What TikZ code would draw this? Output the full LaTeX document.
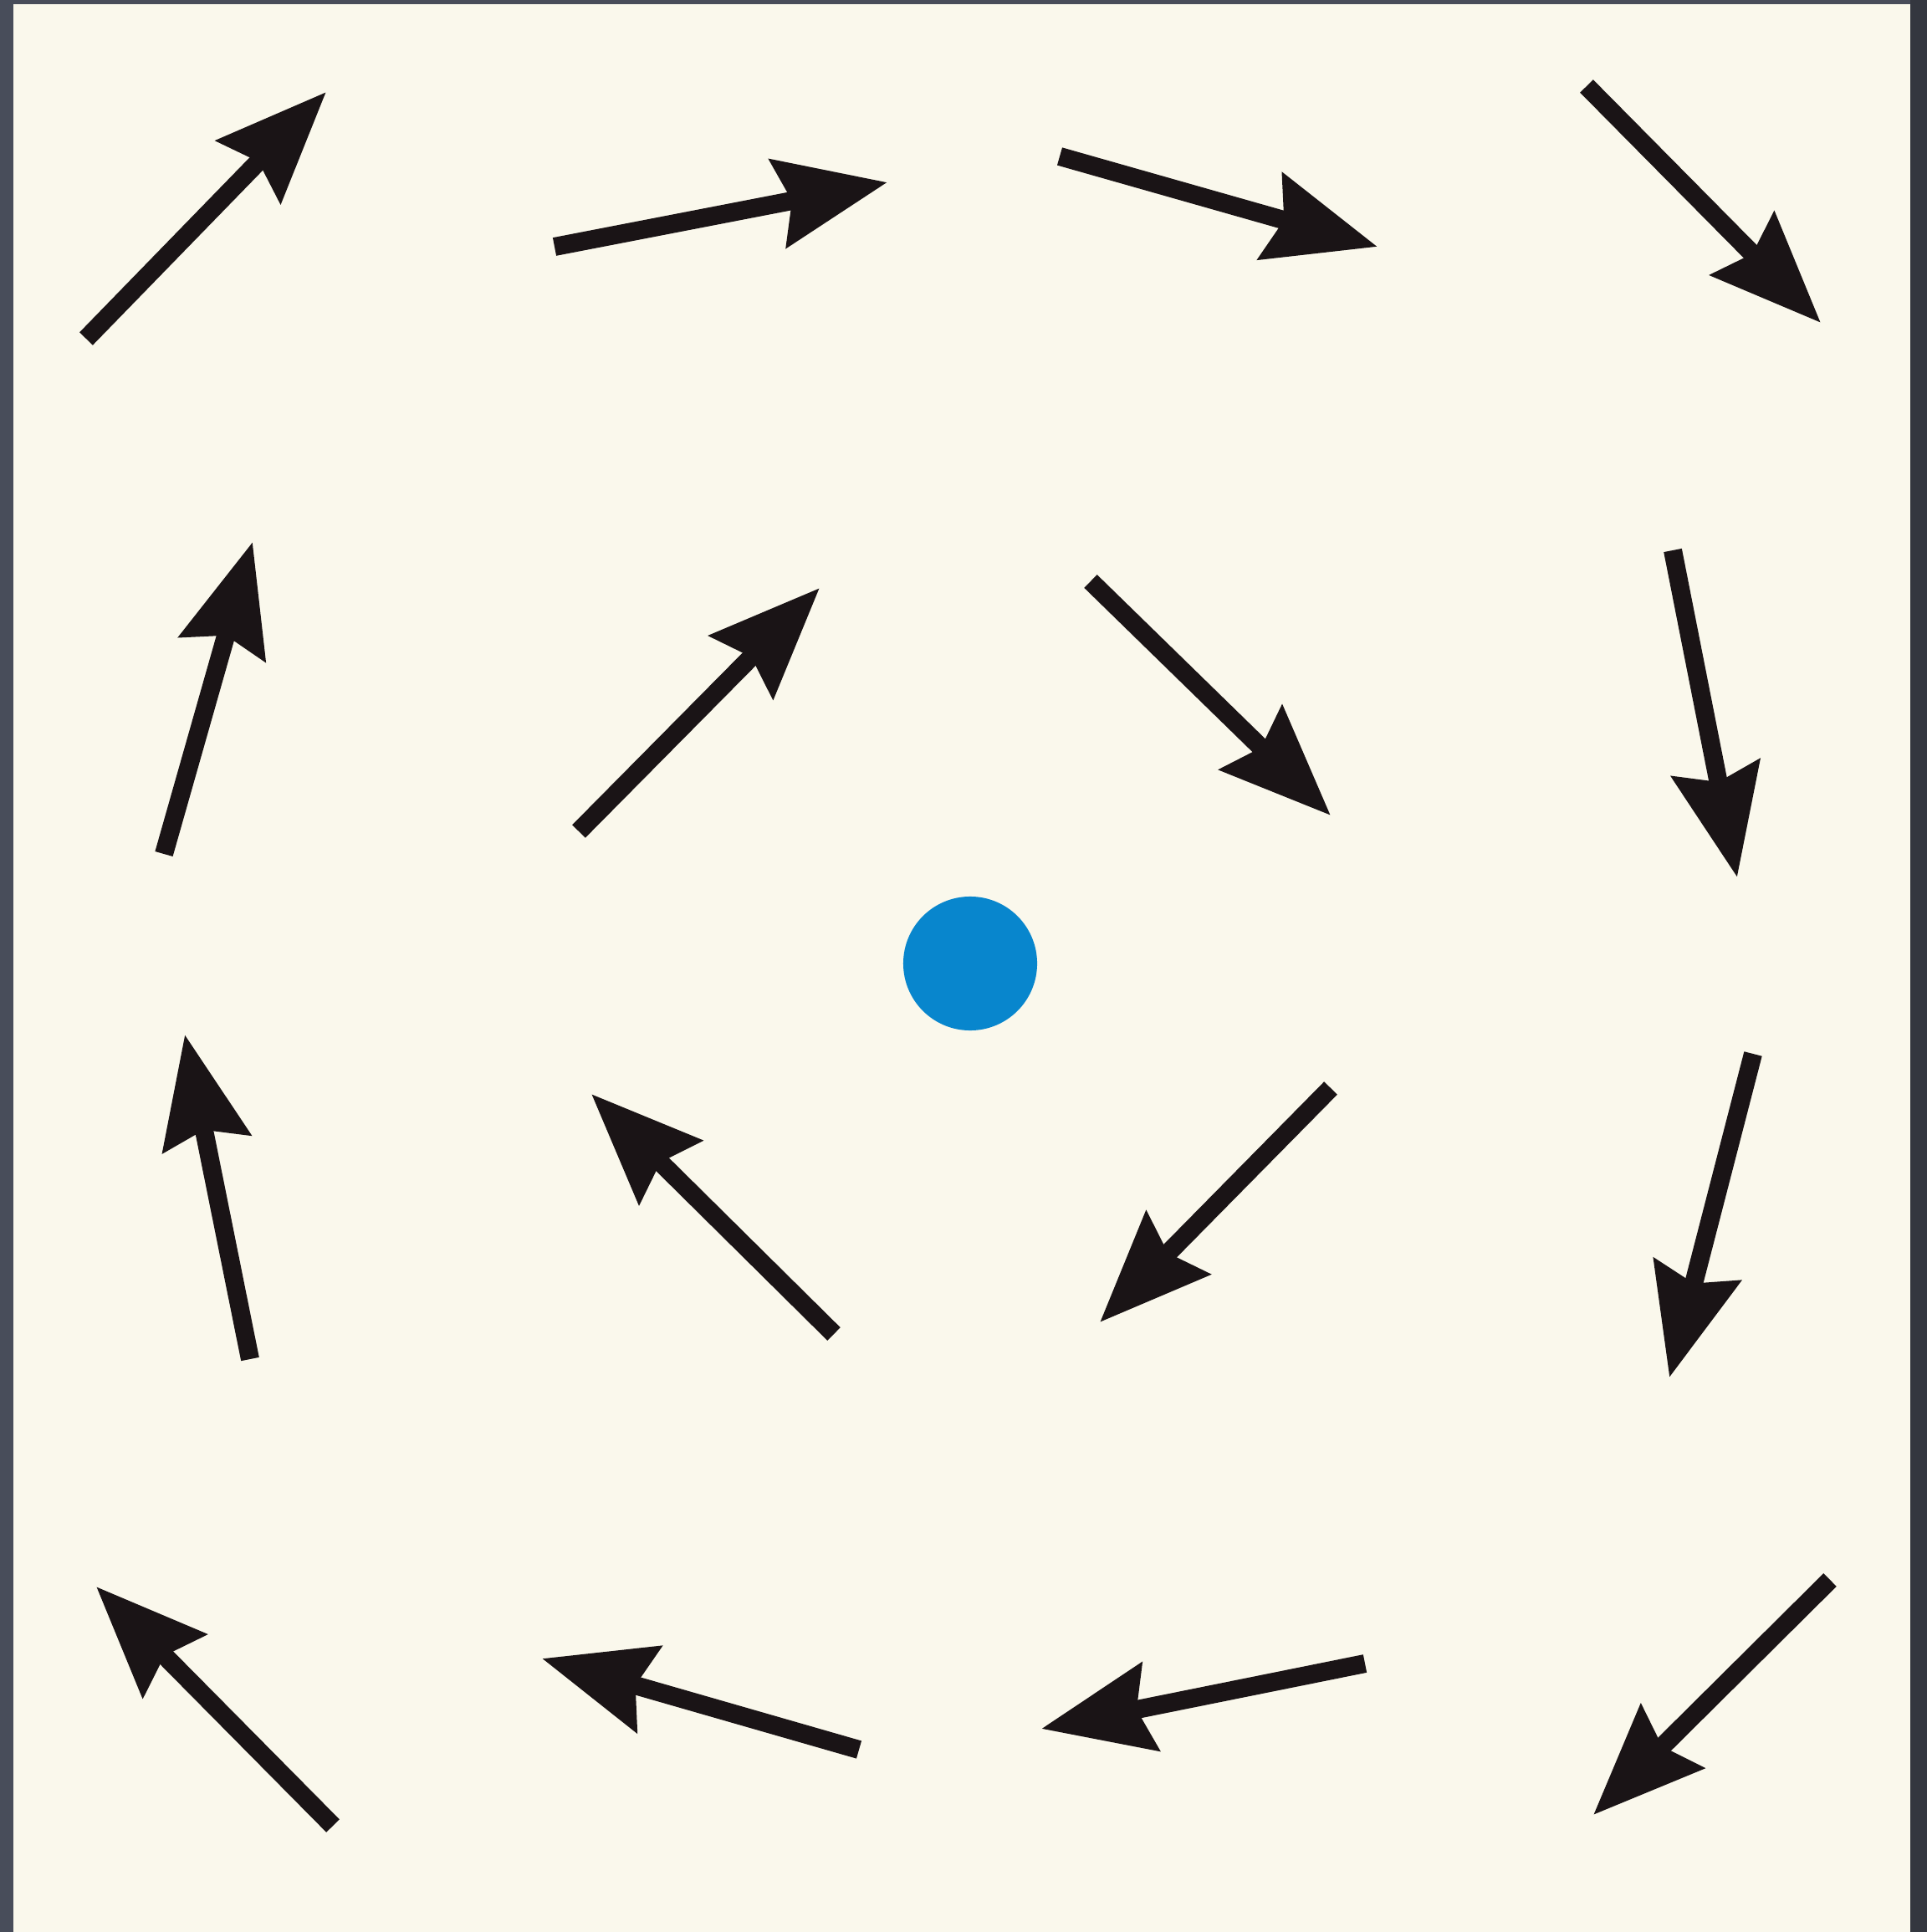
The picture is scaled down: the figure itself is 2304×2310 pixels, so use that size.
\documentclass[tikz,border=0pt]{standalone}
\usetikzlibrary{arrows.meta}
\definecolor{frame}{RGB}{72,77,90}
\definecolor{frameR}{RGB}{52,55,63}
\definecolor{paper}{RGB}{250,248,236}
\definecolor{dotblue}{RGB}{8,134,205}
\definecolor{ink}{RGB}{26,20,22}
\tikzset{
  vec/.style={draw=ink, line width=0.22cm, -{Stealth[length=1.32cm,width=1.05cm,inset=0.16cm]}},
}
\begin{document}
\begin{tikzpicture}[x=0.01cm,y=-0.01cm]
\useasboundingbox (0,0) rectangle (2304,2310);
\fill[frame] (0,0) rectangle (2304,2310);
\fill[frameR] (2284,0) rectangle (2304,2310);
\fill[paper] (16,5) rectangle (2284,2310);
% center dot
\node[circle, fill=dotblue, minimum size=1.6cm, inner sep=0pt] (c) at (1160,1152) {};
% arrow tails (t) and tips (h)
\coordinate (t1) at (103,405);   \coordinate (h1) at (390,110);
\coordinate (t2) at (663,295);   \coordinate (h2) at (1061,218);
\coordinate (t3) at (1267,187);  \coordinate (h3) at (1647,295);
\coordinate (t4) at (1897,103);  \coordinate (h4) at (2177,386);
\coordinate (t5) at (196,1021);  \coordinate (h5) at (302,648);
\coordinate (t6) at (692,994);   \coordinate (h6) at (980,703);
\coordinate (t7) at (1304,695);  \coordinate (h7) at (1591,975);
\coordinate (t8) at (2000,658);  \coordinate (h8) at (2077,1049);
\coordinate (t9) at (299,1625);  \coordinate (h9) at (221,1237);
\coordinate (t10) at (997,1595); \coordinate (h10) at (707,1308);
\coordinate (t11) at (1591,1301);\coordinate (h11) at (1315,1581);
\coordinate (t12) at (2096,1260);\coordinate (h12) at (1996,1647);
\coordinate (t13) at (398,2183); \coordinate (h13) at (115,1897);
\coordinate (t14) at (1027,2092);\coordinate (h14) at (648,1983);
\coordinate (t15) at (1632,1989);\coordinate (h15) at (1245,2067);
\coordinate (t16) at (2188,1889);\coordinate (h16) at (1905,2170);
\foreach \i in {1,...,16} { \draw[vec] (t\i) -- (h\i); }
\end{tikzpicture}
\end{document}
